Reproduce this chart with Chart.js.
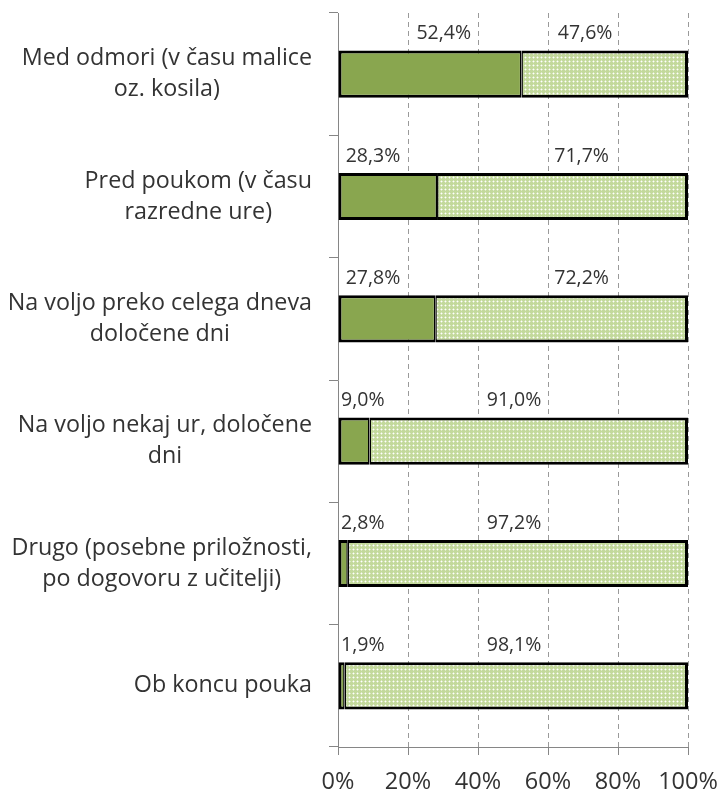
<!DOCTYPE html>
<html><head><meta charset="utf-8">
<script src="https://cdn.jsdelivr.net/npm/chart.js@4"></script>
<style>html,body{margin:0;padding:0;background:#fff}#wrap{width:722px;height:792px}</style>
</head><body><div id="wrap"><canvas id="c" width="722" height="792"></canvas></div>
<script>
const categories = [
  ["Med odmori (v času malice", "oz. kosila)"],
  ["Pred poukom (v času", "razredne ure)"],
  ["Na voljo preko celega dneva", "določene dni"],
  ["Na voljo nekaj ur, določene", "dni"],
  ["Drugo (posebne priložnosti,", "po dogovoru z učitelji)"],
  ["Ob koncu pouka"]
];
const darkValues = [52.4, 28.3, 27.8, 9.0, 2.8, 1.9];
const lightValues = [47.6, 71.7, 72.2, 91.0, 97.2, 98.1];
const tickValues = [0, 20, 40, 60, 80, 100];
const tickLabels = ["0%", "20%", "40%", "60%", "80%", "100%"];

// label anchor centres (in axis units), placed as in the original
const labelAnchors = [
  [30.2, 10.0, 10.0, 7.1, 7.1, 7.1],
  [70.6, 69.6, 69.6, 50.3, 50.3, 50.3]
];

const FONT = "'Open Sans', sans-serif";
const TEXT = '#333333';
const CAT_FONT_SIZE = 23.3;
const CAT_LINE = 31;
const CAT_GAP = 26; // distance from axis to right edge of category text block

function makePattern() {
  const p = document.createElement('canvas');
  p.width = 4; p.height = 4;
  const g = p.getContext('2d');
  g.fillStyle = '#c3d99c';
  g.fillRect(0, 0, 4, 4);
  g.fillStyle = '#dde9c6';
  g.fillRect(0, 1, 3, 1);
  g.fillRect(1, 0, 1, 3);
  g.fillStyle = '#ffffff';
  g.fillRect(1, 1, 1, 1);
  return document.getElementById('c').getContext('2d').createPattern(p, 'repeat');
}

const valueLabels = {
  id: 'valueLabels',
  afterDatasetsDraw(chart) {
    const ctx = chart.ctx;
    const xs = chart.scales.x;
    ctx.save();
    ctx.font = "19.5px " + FONT;
    ctx.fillStyle = TEXT;
    ctx.textAlign = 'center';
    ctx.textBaseline = 'middle';
    chart.data.datasets.forEach((ds, d) => {
      const meta = chart.getDatasetMeta(d);
      meta.data.forEach((bar, i) => {
        const txt = ds.data[i].toFixed(1).replace('.', ',') + '%';
        const x = xs.getPixelForValue(labelAnchors[d][i]);
        const y = bar.y - bar.height / 2 - 17;
        ctx.fillText(txt, x, y);
      });
    });
    ctx.restore();
  }
};

const categoryLabels = {
  id: 'categoryLabels',
  afterDraw(chart) {
    const ctx = chart.ctx;
    const ys = chart.scales.y;
    const right = ys.right - CAT_GAP;
    ctx.save();
    ctx.font = CAT_FONT_SIZE + "px " + FONT;
    ctx.fillStyle = TEXT;
    ctx.textAlign = 'center';
    ctx.textBaseline = 'middle';
    chart.data.labels.forEach((lines, i) => {
      const cy = ys.getPixelForTick(i);
      const w = Math.max(...lines.map(l => ctx.measureText(l).width));
      const cx = right - w / 2;
      const y0 = cy - (lines.length - 1) * CAT_LINE / 2;
      lines.forEach((l, k) => ctx.fillText(l, cx, y0 + k * CAT_LINE));
    });
    ctx.restore();
  }
};

new Chart(document.getElementById('c'), {
  type: 'bar',
  data: {
    labels: categories,
    datasets: [
      {
        data: darkValues,
        backgroundColor: '#89a64f',
        borderColor: '#000',
        borderWidth: {top: 3, bottom: 3, left: 3, right: 1.5},
        borderSkipped: false,
        inflateAmount: 0,
        barPercentage: 0.385,
        categoryPercentage: 1
      },
      {
        data: lightValues,
        backgroundColor: makePattern(),
        borderColor: '#000',
        borderWidth: {top: 3, bottom: 3, left: 1.5, right: 3},
        borderSkipped: false,
        inflateAmount: 0,
        barPercentage: 0.385,
        categoryPercentage: 1
      }
    ]
  },
  options: {
    indexAxis: 'y',
    responsive: false,
    animation: false,
    layout: {padding: {top: 13, right: 34, left: 0, bottom: 0}},
    plugins: {legend: {display: false}, tooltip: {enabled: false}},
    scales: {
      x: {
        stacked: true,
        min: 0, max: 100,
        afterBuildTicks(s) { s.ticks = tickValues.map(v => ({value: v})); },
        afterFit(s) { s.height = 45; s.paddingLeft = 0; s.paddingRight = 0; },
        ticks: {
          callback: (v, i) => tickLabels[i],
          font: {family: FONT, size: 23.5},
          color: TEXT,
          padding: 13,
          maxRotation: 0
        },
        grid: {color: '#9a9a9a', tickLength: 8, tickColor: '#868686', tickBorderDash: []},
        border: {color: '#868686', width: 1, dash: [5, 4]}
      },
      y: {
        stacked: true,
        afterFit(s) { s.width = 338; s.paddingTop = 0; s.paddingBottom = 0; },
        ticks: {display: false},
        grid: {drawOnChartArea: false, drawTicks: true, tickLength: 9, color: '#868686'},
        border: {color: '#868686', width: 1}
      }
    }
  },
  plugins: [valueLabels, categoryLabels]
});
</script>
</body></html>
